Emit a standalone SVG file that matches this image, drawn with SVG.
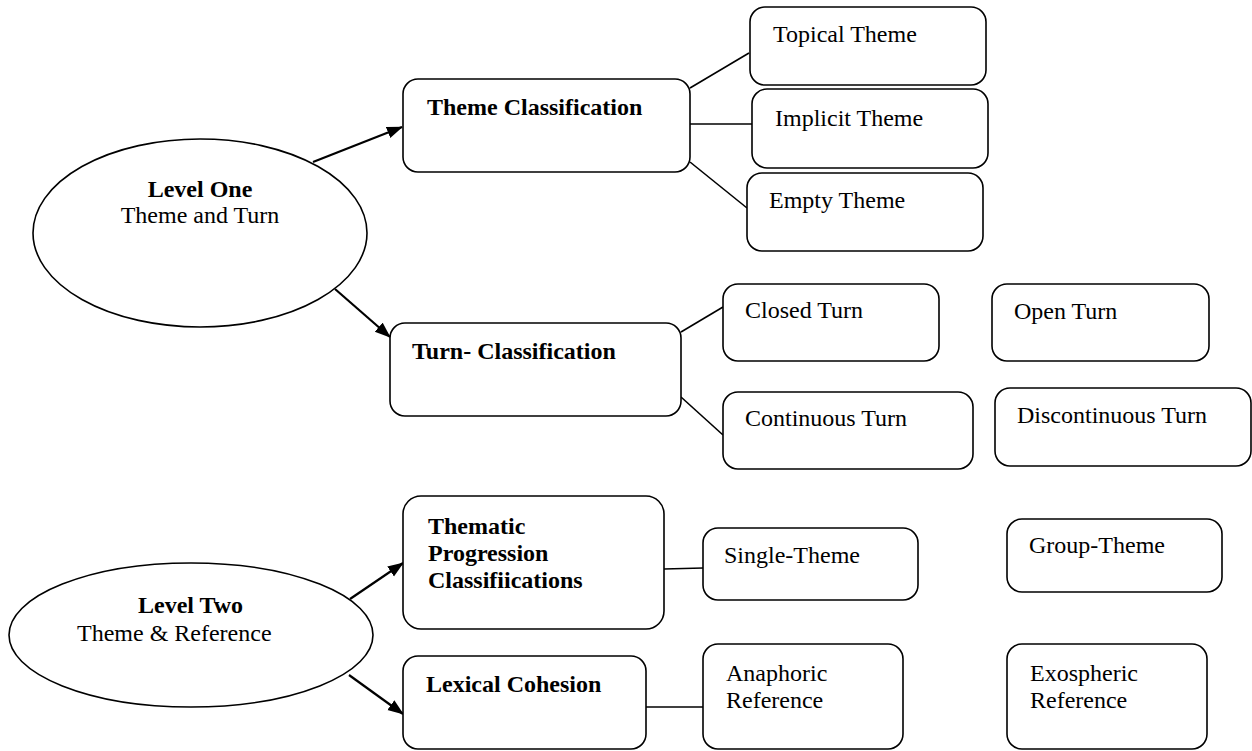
<svg xmlns="http://www.w3.org/2000/svg" width="1252" height="751" viewBox="0 0 1252 751">
<style>
.box{fill:#fff;stroke:#000;stroke-width:1.6}
.t{font-family:"Liberation Serif","Times New Roman",serif;font-size:24px;fill:#000}
.b{font-weight:bold}
.c{text-anchor:middle}
.ln{stroke:#000;stroke-width:1.6;fill:none}
.ar{stroke:#000;stroke-width:2.2;fill:none}
</style>
<defs>
<marker id="ah" markerUnits="userSpaceOnUse" markerWidth="16" markerHeight="14" refX="15" refY="6" orient="auto">
<path d="M0,0 L16,6 L0,12 z" fill="#000"/>
</marker>
</defs>
<rect width="1252" height="751" fill="#fff"/>
<g id="connectors">
<line class="ar" x1="313" y1="162" x2="402" y2="127" marker-end="url(#ah)"/>
<line class="ar" x1="335" y1="289" x2="390" y2="337" marker-end="url(#ah)"/>
<line class="ar" x1="350" y1="599" x2="403" y2="563" marker-end="url(#ah)"/>
<line class="ar" x1="349" y1="675" x2="403" y2="714" marker-end="url(#ah)"/>
<line class="ln" x1="690" y1="88" x2="749" y2="53"/>
<line class="ln" x1="690" y1="124" x2="752" y2="124"/>
<line class="ln" x1="690" y1="162" x2="747" y2="208"/>
<line class="ln" x1="681" y1="332" x2="723" y2="307"/>
<line class="ln" x1="681" y1="397" x2="723" y2="435"/>
<line class="ln" x1="664" y1="569" x2="703" y2="568"/>
<line class="ln" x1="646" y1="707" x2="703" y2="707"/>
</g>
<g id="level-one">
<ellipse class="box" cx="200" cy="233" rx="167" ry="94"/>
<text class="t b c" x="200" y="197">Level One</text>
<text class="t c" x="200" y="223">Theme and Turn</text>
</g>
<g id="level-two">
<ellipse class="box" cx="191" cy="635" rx="182" ry="72"/>
<text class="t b" x="138" y="613">Level Two</text>
<text class="t" x="77" y="641">Theme &amp; Reference</text>
</g>
<g id="theme-classification">
<rect class="box" x="403" y="79" width="287" height="93" rx="15"/>
<text class="t b" x="427" y="115">Theme Classification</text>
</g>
<g id="topical-theme">
<rect class="box" x="750" y="7" width="236" height="78" rx="15"/>
<text class="t" x="773" y="42">Topical Theme</text>
</g>
<g id="implicit-theme">
<rect class="box" x="752" y="89" width="236" height="79" rx="15"/>
<text class="t" x="775" y="126">Implicit Theme</text>
</g>
<g id="empty-theme">
<rect class="box" x="747" y="173" width="236" height="78" rx="15"/>
<text class="t" x="769" y="208">Empty Theme</text>
</g>
<g id="turn-classification">
<rect class="box" x="390" y="323" width="291" height="93" rx="15"/>
<text class="t b" x="412" y="359">Turn- Classification</text>
</g>
<g id="closed-turn">
<rect class="box" x="723" y="284" width="216" height="77" rx="15"/>
<text class="t" x="745" y="318">Closed Turn</text>
</g>
<g id="open-turn">
<rect class="box" x="992" y="284" width="217" height="77" rx="15"/>
<text class="t" x="1014" y="319">Open Turn</text>
</g>
<g id="continuous-turn">
<rect class="box" x="723" y="392" width="250" height="77" rx="15"/>
<text class="t" x="745" y="426">Continuous Turn</text>
</g>
<g id="discontinuous-turn">
<rect class="box" x="995" y="388" width="256" height="78" rx="15"/>
<text class="t" x="1017" y="423">Discontinuous Turn</text>
</g>
<g id="thematic-progression">
<rect class="box" x="403" y="496" width="261" height="133" rx="18"/>
<text class="t b" x="428" y="534">Thematic</text>
<text class="t b" x="428" y="561">Progression</text>
<text class="t b" x="428" y="588">Classifiications</text>
</g>
<g id="lexical-cohesion">
<rect class="box" x="403" y="656" width="243" height="93" rx="15"/>
<text class="t b" x="426" y="692">Lexical Cohesion</text>
</g>
<g id="single-theme">
<rect class="box" x="703" y="528" width="215" height="72" rx="15"/>
<text class="t" x="724" y="563">Single-Theme</text>
</g>
<g id="group-theme">
<rect class="box" x="1007" y="519" width="215" height="73" rx="15"/>
<text class="t" x="1029" y="553">Group-Theme</text>
</g>
<g id="anaphoric-reference">
<rect class="box" x="703" y="644" width="200" height="105" rx="15"/>
<text class="t" x="726" y="681">Anaphoric</text>
<text class="t" x="726" y="708">Reference</text>
</g>
<g id="exospheric-reference">
<rect class="box" x="1007" y="644" width="200" height="105" rx="15"/>
<text class="t" x="1030" y="681">Exospheric</text>
<text class="t" x="1030" y="708">Reference</text>
</g>
</svg>
